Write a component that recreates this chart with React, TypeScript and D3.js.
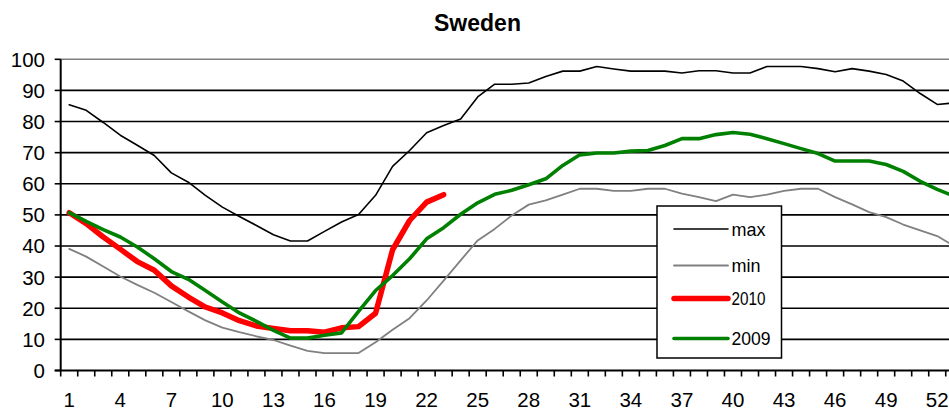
import React from "react";
import * as d3 from "d3";

const TITLE = "Sweden";
const weeks: number[] = d3.range(1, 54);
const yTicks: number[] = [0, 10, 20, 30, 40, 50, 60, 70, 80, 90, 100];
const xTickLabels: number[] = [1, 4, 7, 10, 13, 16, 19, 22, 25, 28, 31, 34, 37, 40, 43, 46, 49, 52];

const maxVals: number[] = [85.4, 83.6, 79.7, 75.6, 72.4, 69.1, 63.5, 60.5, 56.3, 52.5, 49.5, 46.6, 43.6, 41.6, 41.6, 44.7, 47.7, 50.1, 56.3, 65.6, 70.7, 76.4, 78.7, 80.8, 87.9, 92, 92, 92.4, 94.5, 96.2, 96.2, 97.7, 96.9, 96.2, 96.2, 96.2, 95.6, 96.3, 96.3, 95.6, 95.6, 97.7, 97.7, 97.7, 97, 96, 97, 96.2, 95.1, 93, 89, 85.5, 86];
const minVals: number[] = [39.1, 36.6, 33.4, 30.2, 27.5, 25, 22, 19, 16.1, 13.8, 12.3, 11, 9.8, 8, 6.3, 5.6, 5.6, 5.6, 9.1, 13.1, 16.8, 22.5, 28.9, 35.4, 41.8, 45.5, 49.8, 53.3, 54.7, 56.5, 58.4, 58.4, 57.7, 57.7, 58.4, 58.4, 56.8, 55.7, 54.4, 56.5, 55.7, 56.5, 57.7, 58.4, 58.4, 55.7, 53.4, 50.9, 49.3, 46.9, 45, 43.2, 40];
const vals2010: number[] = [50.7, 47.2, 42.9, 39, 35, 32.2, 27.2, 23.6, 20.4, 18.5, 16, 14.3, 13.5, 12.8, 12.8, 12.3, 13.7, 14.1, 18.4, 38.8, 48.2, 54.1, 56.5];
const vals2009: number[] = [50.7, 47.9, 45.3, 42.9, 39.7, 35.9, 31.8, 29.3, 25.7, 22, 18.5, 15.8, 12.9, 10.4, 10.4, 11.3, 12.1, 19, 25.7, 30.5, 35.9, 42.3, 45.9, 50.2, 53.9, 56.6, 57.9, 59.7, 61.6, 65.9, 69.3, 69.9, 69.9, 70.5, 70.7, 72.3, 74.5, 74.5, 75.8, 76.5, 75.9, 74.5, 72.9, 71.3, 69.7, 67.3, 67.3, 67.3, 66.2, 64, 60.8, 58.2, 56];

const seriesNames: string[] = ["max", "min", "2010", "2009"];
const seriesColors: string[] = ["#000000", "#808080", "#ff0000", "#008000"];
const seriesWidths: number[] = [1.6, 1.8, 5.5, 3.6];

const FONT = "'Liberation Sans', Arial, Helvetica, sans-serif";

export default function App() {
  const W = 949;
  const H = 412;
  const left = 60.7;
  const step = 17.02;
  const x = d3
    .scaleBand<number>()
    .domain(weeks)
    .range([left, left + weeks.length * step])
    .padding(0);
  const y = d3.scaleLinear().domain([0, 100]).range([370.5, 59.3]);
  const cx = (w: number) => (x(w) as number) + x.bandwidth() / 2;
  const right = left + weeks.length * step;

  const allSeries = [maxVals, minVals, vals2010, vals2009];
  const line = d3
    .line<number>()
    .x((_, i) => cx(weeks[i]))
    .y((v) => y(v));

  const boundaries = d3.range(0, weeks.length + 1).map((i) => left + i * step);

  const legendY = [229, 265.5, 298.5, 338.5];
  const legendTextLen = [34, 29, 34, 39];

  return (
    <div style={{ position: "fixed", left: 0, top: 0, width: W, height: H, overflow: "hidden", background: "#fff" }}>
      <svg width={W} height={H} style={{ display: "block" }}>
        <rect x={0} y={0} width={W} height={H} fill="#fff" />
        <text x={477.5} y={31} textAnchor="middle" fontFamily={FONT} fontWeight="bold" fontSize={23} fill="#000">
          {TITLE}
        </text>
        {yTicks.map((t) =>
          t === 0 ? null : (
            <line
              key={"g" + t}
              x1={left}
              x2={right}
              y1={y(t)}
              y2={y(t)}
              stroke={t === 100 ? "#808080" : "#000"}
              strokeWidth={1.6}
            />
          )
        )}
        <line x1={left} x2={left} y1={y(100)} y2={y(0)} stroke="#000" strokeWidth={2} />
        {yTicks.map((t) => (
          <g key={"yt" + t}>
            <line x1={left - 6} x2={left} y1={y(t)} y2={y(t)} stroke="#000" strokeWidth={1.6} />
            <text
              x={45}
              y={y(t)}
              dy="0.36em"
              textAnchor="end"
              fontFamily={FONT}
              fontSize={20.5}
              fill="#000"
            >
              {t}
            </text>
          </g>
        ))}
        <line x1={left - 6} x2={right} y1={y(0)} y2={y(0)} stroke="#000" strokeWidth={2} />
        {boundaries.map((bx, i) => (
          <line key={"xt" + i} x1={bx} x2={bx} y1={y(0)} y2={y(0) + 6} stroke="#000" strokeWidth={1.6} />
        ))}
        {xTickLabels.map((w) => (
          <text key={"xl" + w} x={cx(w)} y={407} textAnchor="middle" fontFamily={FONT} fontSize={20.5} fill="#000">
            {w}
          </text>
        ))}
        {allSeries.map((vals, i) => (
          <path
            key={"s" + i}
            d={line(vals) || ""}
            fill="none"
            stroke={seriesColors[i]}
            strokeWidth={seriesWidths[i]}
            strokeLinejoin="round"
            strokeLinecap="round"
          />
        ))}
        <rect x={657} y={206} width={124.5} height={152} fill="#fff" stroke="#000" strokeWidth={1.5} />
        {seriesNames.map((n, i) => (
          <g key={"lg" + i}>
            <line
              x1={674}
              x2={728}
              y1={legendY[i]}
              y2={legendY[i]}
              stroke={seriesColors[i]}
              strokeWidth={seriesWidths[i]}
              strokeLinecap="round"
            />
            <text
              x={731.5}
              y={legendY[i]}
              dy="0.36em"
              fontFamily={FONT}
              fontSize={19}
              textLength={legendTextLen[i]}
              lengthAdjust="spacingAndGlyphs"
              fill="#000"
            >
              {n}
            </text>
          </g>
        ))}
      </svg>
    </div>
  );
}
